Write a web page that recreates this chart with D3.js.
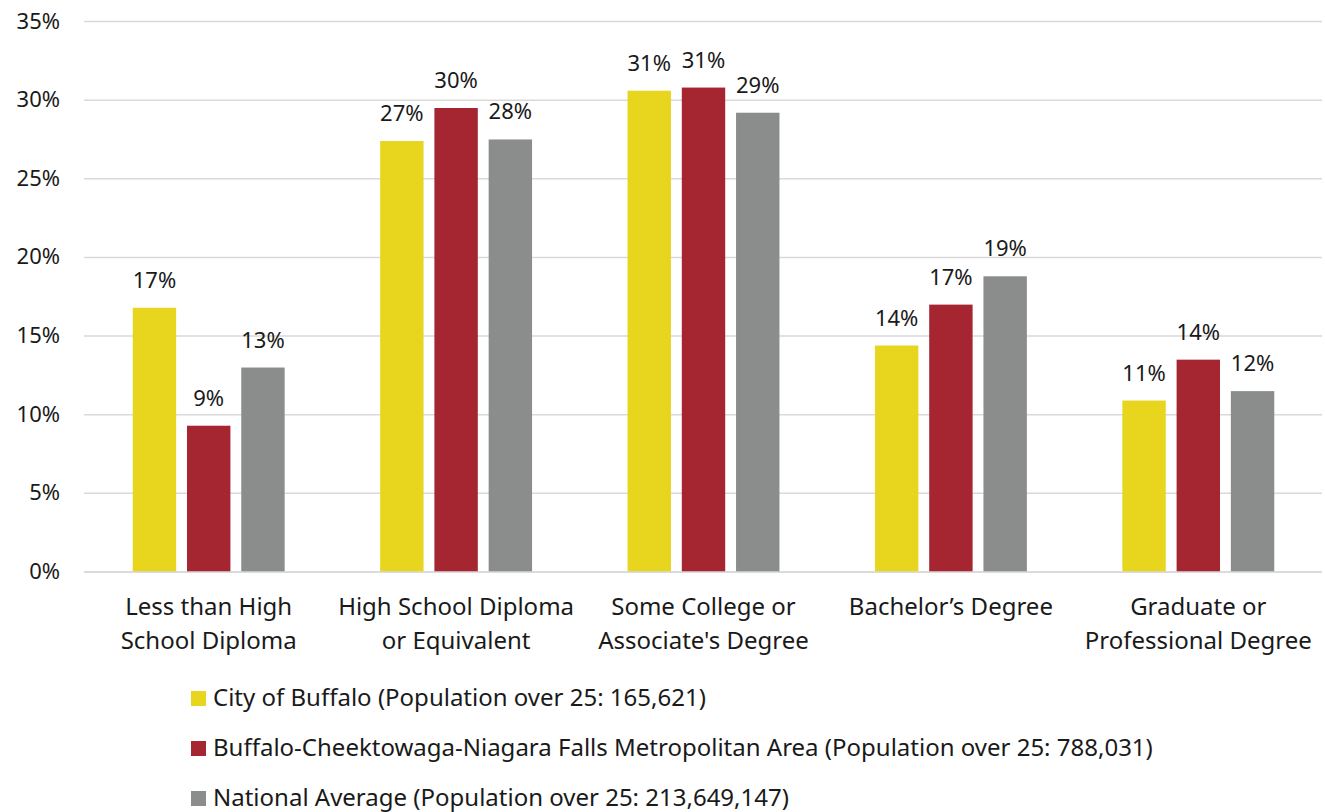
<!DOCTYPE html>
<html><head><meta charset="utf-8">
<script src="https://cdn.jsdelivr.net/npm/d3@7"></script>
<style>body{margin:0;background:#fff;} svg{display:block;} text{font-family:"Noto Sans", sans-serif;fill:#1a1a1a;}</style>
</head><body>
<svg id="c" width="1325" height="812"></svg>
<script>
const categories = [["Less than High","School Diploma"],["High School Diploma","or Equivalent"],["Some College or","Associate's Degree"],["Bachelor’s Degree"],["Graduate or","Professional Degree"]];
const seriesNames = ["City of Buffalo (Population over 25: 165,621)","Buffalo-Cheektowaga-Niagara Falls Metropolitan Area (Population over 25: 788,031)","National Average (Population over 25: 213,649,147)"];
const cityBuffalo = [16.8, 27.4, 30.6, 14.4, 10.9];
const metroArea = [9.3, 29.5, 30.8, 17.0, 13.5];
const national = [13.0, 27.5, 29.2, 18.8, 11.5];
const colors = ["#e8d51e","#a52531","#8a8d8b"];
const yTicks = [0,5,10,15,20,25,30,35];

const series = [cityBuffalo, metroArea, national];
const svg = d3.select("#c");
const y = d3.scaleLinear().domain([0,35]).range([572,21.5]);
const x0 = d3.scaleBand().domain(d3.range(categories.length)).range([85,1322]);
const x1 = d3.scaleBand().domain(d3.range(3)).range([0,x0.bandwidth()]).paddingInner(0.2).paddingOuter(0.88);

svg.append("g").selectAll("line").data(yTicks).join("line")
  .attr("x1",84).attr("x2",1322).attr("y1",d=>y(d)).attr("y2",d=>y(d))
  .attr("stroke","#d9d9d9").attr("stroke-width",1.5);
svg.append("g").selectAll("text").data(yTicks).join("text")
  .attr("x",60).attr("y",d=>y(d)+7).attr("text-anchor","end")
  .style("font-size","22px").text(d=>d+"%");

const g = svg.append("g").selectAll("g").data(categories).join("g")
  .attr("transform",(d,i)=>`translate(${x0(i)},0)`);
g.each(function(c,i){
  const gg = d3.select(this);
  series.forEach((s,j)=>{
    gg.append("rect").attr("x",x1(j)).attr("width",x1.bandwidth())
      .attr("y",y(s[i])).attr("height",y(0)-y(s[i])).attr("fill",colors[j]);
    gg.append("text").attr("x",x1(j)+x1.bandwidth()/2).attr("y",y(s[i])-20)
      .attr("text-anchor","middle").style("font-size","22px").text(Math.round(s[i])+"%");
  });
  c.forEach((line,k)=>{
    gg.append("text").attr("x",x0.bandwidth()/2).attr("y",615+k*34)
      .attr("text-anchor","middle").style("font-size","24px").text(line);
  });
});
svg.append("line").attr("x1",84).attr("x2",1322).attr("y1",y(0)).attr("y2",y(0)).attr("stroke","#d9d9d9").attr("stroke-width",1.5);

const lg = svg.append("g").selectAll("g").data(seriesNames).join("g")
  .attr("transform",(d,i)=>`translate(191,${691+i*50})`);
lg.append("rect").attr("width",15).attr("height",15).attr("fill",(d,i)=>colors[i]);
lg.append("text").attr("x",22).attr("y",15).style("font-size","24px").text(d=>d);
</script>
</body></html>
